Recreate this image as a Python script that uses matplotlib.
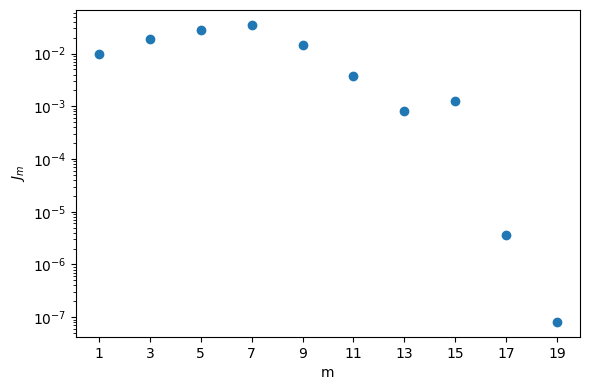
import matplotlib
matplotlib.use("Agg")
import matplotlib.pyplot as plt

m = [1, 3, 5, 7, 9, 11, 13, 15, 17, 19]
J = [1.0e-2, 1.9e-2, 2.82e-2, 3.51e-2, 1.48e-2, 3.77e-3, 8.2e-4, 1.28e-3, 3.57e-6, 8.05e-8]

fig, ax = plt.subplots(figsize=(5.9, 3.9), dpi=100)
ax.scatter(m, J)
ax.set_yscale("log")
ax.set_xticks(m)
ax.set_xlabel("m")
ax.set_ylabel("$J_m$")
fig.subplots_adjust(left=76/590, right=580/590, top=1-10/390, bottom=1-337/390)
fig.savefig("out.png")
